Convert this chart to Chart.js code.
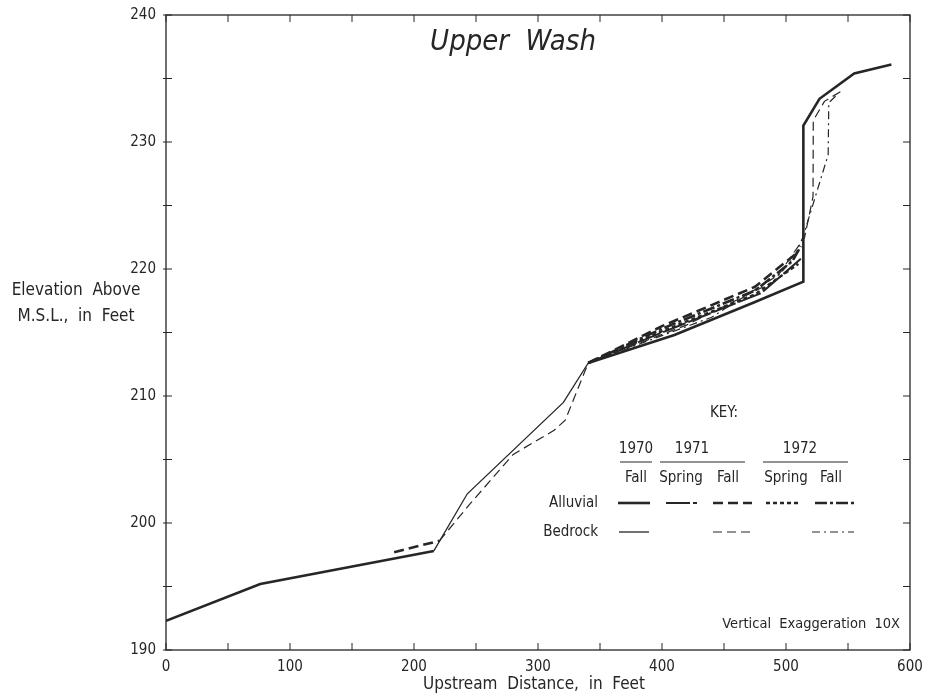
<!DOCTYPE html>
<html>
<head>
<meta charset="utf-8">
<script src="https://cdn.jsdelivr.net/npm/chart.js@4"></script>
<style>
  html, body { margin: 0; padding: 0; background: #fff; }
  #wrap { width: 928px; height: 697px; position: relative; }
</style>
</head>
<body>
<div id="wrap"><canvas id="profile"></canvas></div>
<script>
// Upper Wash longitudinal profile, 1970-1972 surveys
const xTickLabels = [0, 100, 200, 300, 400, 500, 600];
const yTickLabels = [190, 200, 210, 220, 230, 240];

// 1970 Fall, alluvial (thick solid); null = break where bedrock shows
const fall70AlluvialX = [0, 76, 216, 280, 340.5, 410, 475, 514, 514, 527, 555, 585];
const fall70AlluvialY = [192.3, 195.2, 197.8, null, 212.6, 214.8, 217.4, 219.0, 231.3, 233.4, 235.4, 236.1];

// 1970 Fall, bedrock (thin solid)
const fall70BedrockX = [216, 243, 320.5, 340.5];
const fall70BedrockY = [197.8, 202.3, 209.5, 212.6];

// 1971 Spring, alluvial
const spring71AlluvialX = [340.5, 400, 480, 512];
const spring71AlluvialY = [212.6, 215.0, 218.1, 220.8];

// 1971 Fall, alluvial (thick dashed)
const fall71AlluvialX = [184, 220.5, 280, 340.5, 400, 475, 508];
const fall71AlluvialY = [197.7, 198.6, null, 212.6, 215.5, 218.6, 221.2];

// 1971 Fall, bedrock (thin dashed)
const fall71BedrockX = [220.5, 246, 280, 313, 322, 340.5, 420, 490, 515, 521.8, 522, 531, 544.5];
const fall71BedrockY = [198.6, 201.6, 205.4, 207.3, 208.1, 212.6, 215.6, 219.0, 222.5, 225.7, 231.7, 233.2, 234.0];

// 1972 Spring, alluvial (dotted)
const spring72AlluvialX = [340.5, 400, 475, 510];
const spring72AlluvialY = [212.6, 215.1, 218.0, 220.4];

// 1972 Fall, alluvial (thick dash-dot)
const fall72AlluvialX = [340.5, 400, 475, 505, 512];
const fall72AlluvialY = [212.6, 215.3, 218.3, 220.6, 221.8];

// 1972 Fall, bedrock (thin dash-dot)
const fall72BedrockX = [340.5, 440, 495, 507, 514, 534, 534.5, 540];
const fall72BedrockY = [212.6, 216.2, 219.6, 221.0, 222.6, 229.0, 233.1, 233.6];

const ink = '#262626';
const font = "'DejaVu Sans Condensed', 'Liberation Sans Narrow', sans-serif";

function pts(xs, ys) {
    return xs.map((x, i) => ({ x: x, y: ys[i] }));
}

function line(label, xs, ys, width, dash) {
    return {
        label: label, data: pts(xs, ys),
        borderColor: ink, borderWidth: width, borderDash: dash,
        pointRadius: 0, tension: 0, fill: false, spanGaps: false
    };
}

const datasets = [
    line('1970 Fall alluvial', fall70AlluvialX, fall70AlluvialY, 2.6, []),
    line('1970 Fall bedrock', fall70BedrockX, fall70BedrockY, 1.3, []),
    line('1971 Spring alluvial', spring71AlluvialX, spring71AlluvialY, 2, [24, 3]),
    line('1971 Fall alluvial', fall71AlluvialX, fall71AlluvialY, 2.6, [10, 5]),
    line('1971 Fall bedrock', fall71BedrockX, fall71BedrockY, 1.2, [9, 5]),
    line('1972 Spring alluvial', spring72AlluvialX, spring72AlluvialY, 2.4, [4, 3]),
    line('1972 Fall alluvial', fall72AlluvialX, fall72AlluvialY, 2.6, [12, 3, 3, 3]),
    line('1972 Fall bedrock', fall72BedrockX, fall72BedrockY, 1.2, [8, 4, 2, 4])
];

// key layout: dataset index -> [x0, x1, row]
const keySlots = [
    [0, 618, 650, 0], [2, 666, 697, 0], [3, 713, 752, 0], [5, 766, 801, 0], [6, 815, 856, 0],
    [1, 619, 649, 1], [4, 713, 752, 1], [7, 812, 854, 1]
];

const frame = {
    id: 'frame',
    afterDraw(chart) {
        const { ctx, chartArea: a, scales: { x, y } } = chart;
        ctx.save();
        ctx.strokeStyle = ink;
        ctx.lineWidth = 1.3;
        ctx.setLineDash([]);
        ctx.strokeRect(a.left, a.top, a.right - a.left, a.bottom - a.top);
        ctx.lineWidth = 1;
        x.ticks.forEach(t => {
            const px = x.getPixelForValue(t.value);
            ctx.beginPath();
            ctx.moveTo(px, a.bottom); ctx.lineTo(px, a.bottom - 7);
            ctx.moveTo(px, a.top); ctx.lineTo(px, a.top + 7);
            ctx.stroke();
        });
        y.ticks.forEach(t => {
            const py = y.getPixelForValue(t.value);
            ctx.beginPath();
            ctx.moveTo(a.left - 3, py); ctx.lineTo(a.left + 6, py);
            ctx.moveTo(a.right, py); ctx.lineTo(a.right - 7, py);
            ctx.stroke();
        });

        ctx.fillStyle = ink;
        ctx.textAlign = 'center';
        ctx.textBaseline = 'middle';
        ctx.font = 'italic 29px ' + font;
        ctx.fillText('Upper  Wash', 513, 42);

        ctx.font = '17px ' + font;
        ctx.fillText('Elevation  Above', 76, 291);
        ctx.fillText('M.S.L.,  in  Feet', 76, 317);
        ctx.fillText('Upstream  Distance,  in  Feet', 534, 685);

        ctx.textAlign = 'right';
        ctx.font = '14.5px ' + font;
        ctx.fillText('Vertical  Exaggeration  10X', 900, 624);

        // key
        ctx.textAlign = 'center';
        ctx.font = '15px ' + font;
        ctx.fillText('KEY:', 724, 413);
        ctx.fillText('1970', 636, 449);
        ctx.fillText('1971', 692, 449);
        ctx.fillText('1972', 800, 449);
        ctx.fillText('Fall', 636, 478);
        ctx.fillText('Spring', 681, 478);
        ctx.fillText('Fall', 728, 478);
        ctx.fillText('Spring', 786, 478);
        ctx.fillText('Fall', 831, 478);
        ctx.textAlign = 'right';
        ctx.fillText('Alluvial', 598, 503);
        ctx.fillText('Bedrock', 598, 532);
        ctx.lineWidth = 1;
        ctx.beginPath();
        ctx.moveTo(620, 462); ctx.lineTo(652, 462);
        ctx.moveTo(660, 462); ctx.lineTo(745, 462);
        ctx.moveTo(763, 462); ctx.lineTo(848, 462);
        ctx.stroke();
        keySlots.forEach(([i, x0, x1, row]) => {
            const ds = chart.data.datasets[i];
            const py = row === 0 ? 503 : 532;
            ctx.lineWidth = ds.borderWidth;
            ctx.setLineDash(ds.borderDash);
            ctx.beginPath();
            ctx.moveTo(x0, py); ctx.lineTo(x1, py);
            ctx.stroke();
        });
        ctx.restore();
    }
};

new Chart(document.getElementById('profile'), {
    type: 'line',
    data: { datasets: datasets },
    options: {
        responsive: true, maintainAspectRatio: false, animation: false,
        layout: { padding: { left: 124, right: 18, top: 15, bottom: 0 } },
        plugins: { legend: { display: false }, tooltip: { enabled: false } },
        scales: {
            x: {
                type: 'linear', min: 0, max: 600,
                afterFit: s => { s.height = 47; },
                grid: { display: false },
                border: { display: false },
                ticks: {
                    stepSize: 50, autoSkip: false, maxRotation: 0, color: ink, padding: 0,
                    font: { family: font, size: 15 },
                    callback: v => xTickLabels.includes(v) ? String(v) : ''
                }
            },
            y: {
                type: 'linear', min: 190, max: 240,
                afterFit: s => { s.width = 42; },
                grid: { display: false },
                border: { display: false },
                ticks: {
                    stepSize: 5, autoSkip: false, color: ink, padding: 2,
                    font: { family: font, size: 15 },
                    callback: v => yTickLabels.includes(v) ? String(v) : ''
                }
            }
        }
    },
    plugins: [frame]
});
</script>
</body>
</html>
